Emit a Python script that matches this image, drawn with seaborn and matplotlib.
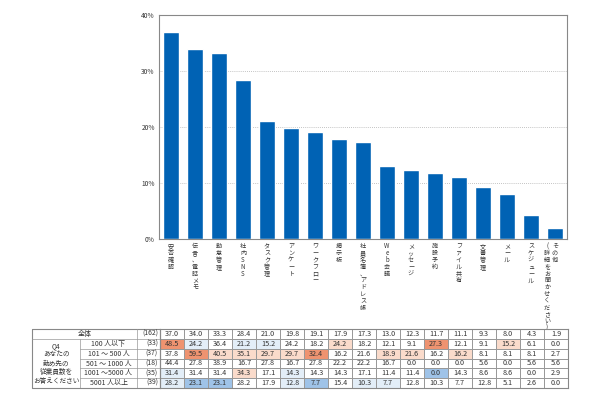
import numpy as np
import pandas as pd
import matplotlib
matplotlib.use("Agg")
import matplotlib.pyplot as plt
from matplotlib.colors import ListedColormap
import seaborn as sns

categories = ["安否確認", "伝言、電話メモ", "勤怠管理", "社内SNS", "タスク管理", "アンケート",
              "ワークフロー", "掲示板", "社員名簿、アドレス帳", "Web会議", "メッセージ", "施設予約",
              "ファイル共有", "文書管理", "メール", "スケジュール", "その他\n(詳細をお聞かせください)"]
row_labels = ["全体", "100 人以下", "101 ～ 500 人", "501 ～ 1000 人", "1001 ～5000 人", "5001 人以上"]
row_n = [162, 33, 37, 18, 35, 39]
total = [37.0, 34.0, 33.3, 28.4, 21.0, 19.8, 19.1, 17.9, 17.3, 13.0, 12.3, 11.7, 11.1, 9.3, 8.0, 4.3, 1.9]
size_100 = [48.5, 24.2, 36.4, 21.2, 15.2, 24.2, 18.2, 24.2, 18.2, 12.1, 9.1, 27.3, 12.1, 9.1, 15.2, 6.1, 0.0]
size_500 = [37.8, 59.5, 40.5, 35.1, 29.7, 29.7, 32.4, 16.2, 21.6, 18.9, 21.6, 16.2, 16.2, 8.1, 8.1, 8.1, 2.7]
size_1000 = [44.4, 27.8, 38.9, 16.7, 27.8, 16.7, 27.8, 22.2, 22.2, 16.7, 0.0, 0.0, 0.0, 5.6, 0.0, 5.6, 5.6]
size_5000 = [31.4, 31.4, 31.4, 34.3, 17.1, 14.3, 14.3, 14.3, 17.1, 11.4, 11.4, 0.0, 14.3, 8.6, 8.6, 0.0, 2.9]
size_over = [28.2, 23.1, 23.1, 28.2, 17.9, 12.8, 7.7, 15.4, 10.3, 7.7, 12.8, 10.3, 7.7, 12.8, 5.1, 2.6, 0.0]
question = "Q4\nあなたの\n勤め先の\n従業員数を\nお答えください"

sns.set_theme(style="white")
plt.rcParams['font.family'] = ['Noto Sans CJK JP', 'DejaVu Sans']

W, H = 590, 404
fig = plt.figure(figsize=(W / 100, H / 100), dpi=100)

def px_axes(x0, y0, x1, y1):
    return fig.add_axes([x0 / W, 1 - y1 / H, (x1 - x0) / W, (y1 - y0) / H])

# bar chart
ax = px_axes(159, 15, 567, 239)
df = pd.DataFrame({"item": categories, "pct": total})
sns.barplot(data=df, x="item", y="pct", color="#0062b4", width=0.7, saturation=1, ax=ax)
ax.set_ylim(0, 40)
ax.set_xlim(-0.5, len(categories) - 0.5)
ax.set_yticks([0, 10, 20, 30, 40])
ax.set_yticklabels([f"{v}%" for v in [0, 10, 20, 30, 40]], fontsize=4.8, color="#333333")
ax.tick_params(axis="y", length=0, pad=3)
ax.set_xticks([])
ax.set_xlabel("")
ax.set_ylabel("")
for v in [10, 20, 30]:
    ax.axhline(v, color="#b0b0b0", lw=0.6, ls=(0, (1, 1.5)), zorder=0)
for s in ax.spines.values():
    s.set_color("#888888")
    s.set_linewidth(0.8)

# vertical (stacked) category labels, extra columns go to the left
for i, lab in enumerate(categories):
    cols = lab.split("\n")
    for j, col in enumerate(cols):
        ax.text(i - j * 0.33, -0.015, "\n".join(col), transform=ax.get_xaxis_transform(),
                ha="center", va="top", fontsize=4.4, linespacing=0.8, color="#333333")

# table values with colour by difference from total
rows = [total, size_100, size_500, size_1000, size_5000, size_over]
vals = np.array(rows)
codes = np.zeros_like(vals)
for r in range(1, len(rows)):
    if row_n[r] < 30:
        continue
    d = vals[r] - vals[0]
    codes[r][d >= 5] = 1
    codes[r][d >= 10] = 2
    codes[r][d <= -5] = -1
    codes[r][d <= -10] = -2

cmap = ListedColormap(["#9fc3e8", "#e3eef8", "#ffffff", "#fadbcb", "#ee9370"])
tax = px_axes(160, 329, 568, 388)
sns.heatmap(codes, ax=tax, cmap=cmap, vmin=-2.5, vmax=2.5, cbar=False,
            annot=vals, fmt=".1f", annot_kws={"fontsize": 5.2, "color": "#333333"},
            linewidths=0.5, linecolor="#999999", xticklabels=False, yticklabels=False)
for s in tax.spines.values():
    s.set_visible(True)
    s.set_color("#888888")
    s.set_linewidth(0.8)

# row labels part of the table
lax = px_axes(32, 329, 160, 388)
lax.set_xlim(0, 128)
lax.set_ylim(6, 0)
lax.axis("off")
lc = "#999999"
lax.plot([0, 128, 128, 0, 0], [0, 0, 6, 6, 0], color="#888888", lw=0.8, clip_on=False)
lax.plot([48, 48], [1, 6], color=lc, lw=0.5)
lax.plot([105, 105], [0, 6], color=lc, lw=0.5)
lax.plot([0, 128], [1, 1], color=lc, lw=0.5)
for r in range(2, 6):
    lax.plot([48, 128], [r, r], color=lc, lw=0.5)
lax.text(52.5, 0.5, row_labels[0], ha="center", va="center", fontsize=5.0, color="#333333")
for r in range(1, 6):
    lax.text(76.5, r + 0.5, row_labels[r], ha="center", va="center", fontsize=5.0, color="#333333")
for r in range(6):
    lax.text(126, r + 0.5, f"({row_n[r]})", ha="right", va="center", fontsize=5.0, color="#333333")
lax.text(24, 3.5, question, ha="center", va="center", fontsize=4.8, linespacing=1.1, color="#333333")

fig.savefig("out.png", dpi=100)
